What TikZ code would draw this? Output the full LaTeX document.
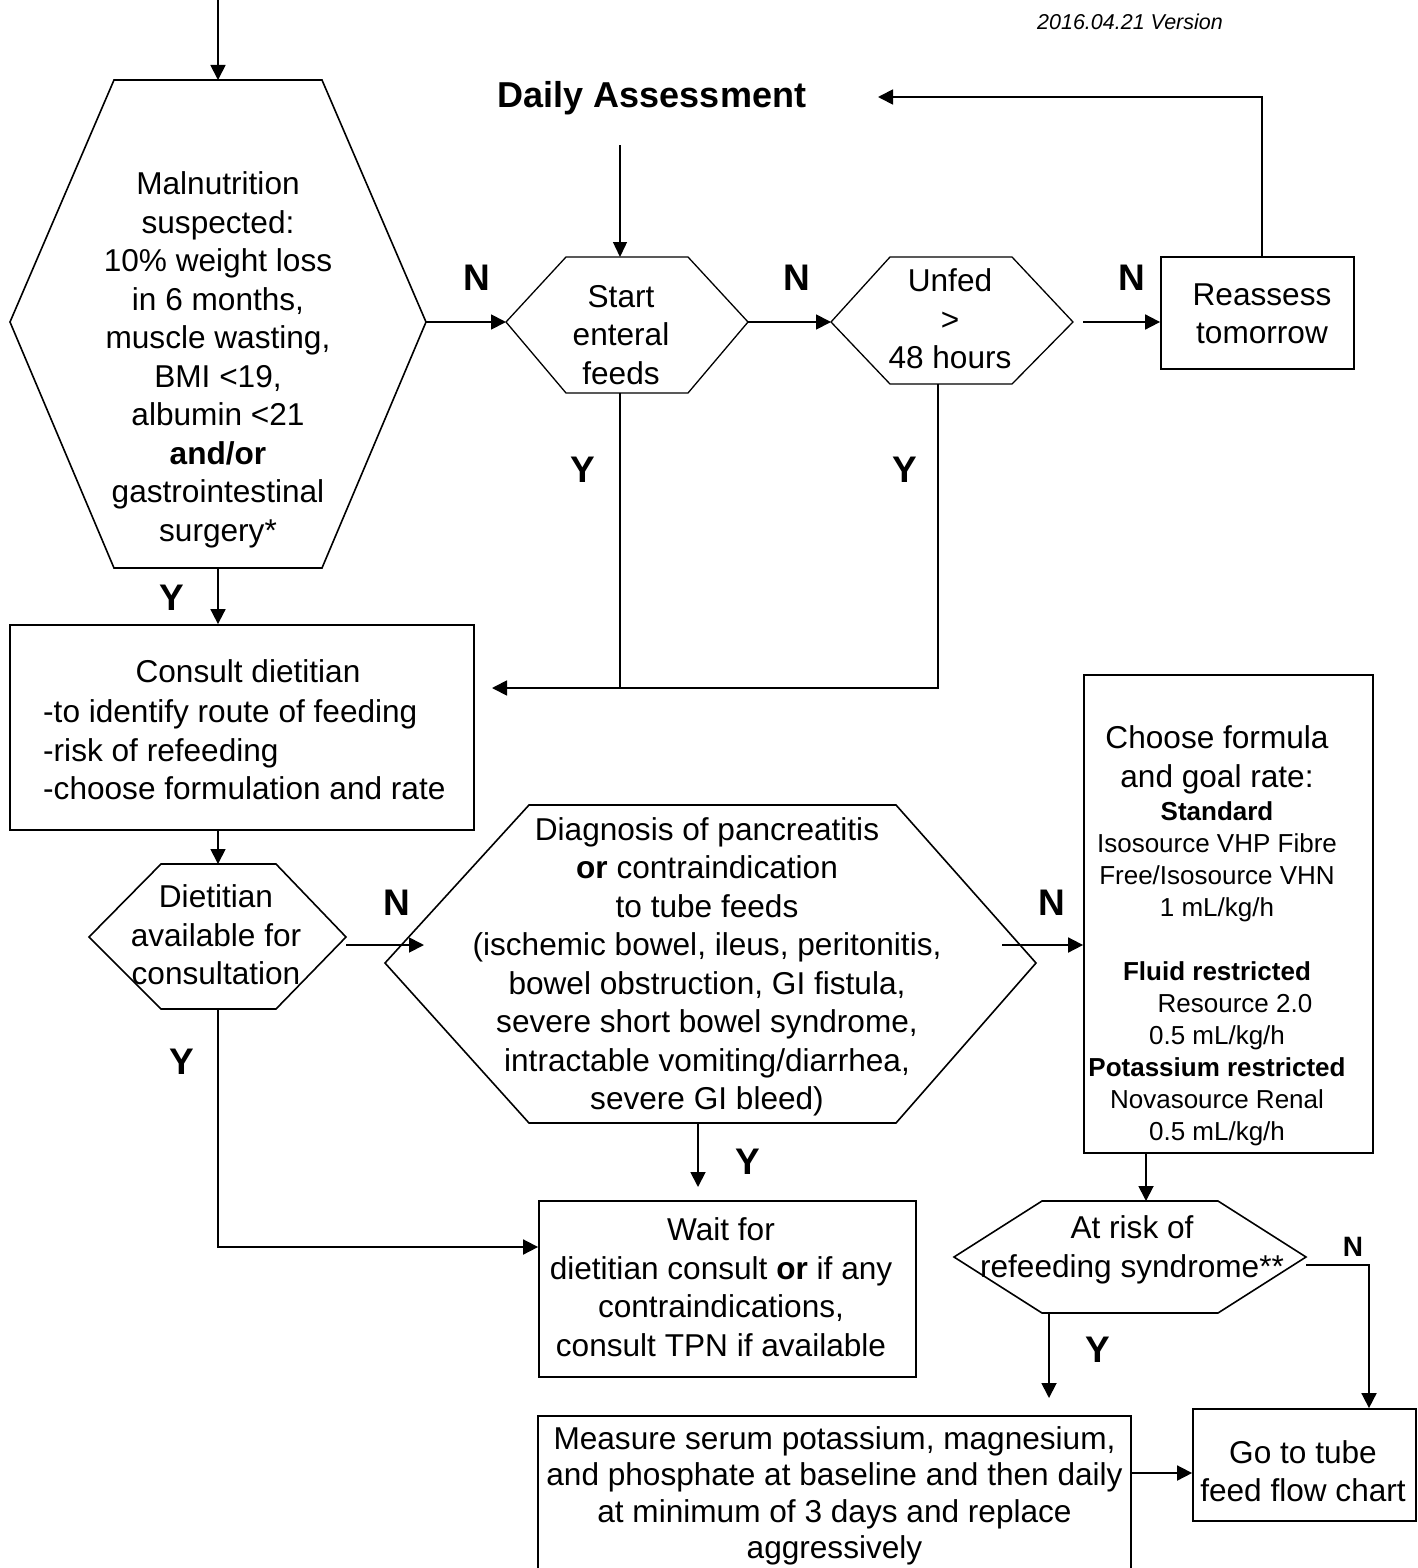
\documentclass[tikz,border=0pt]{standalone}
\usepackage{fontspec}
\setmainfont{Liberation Sans}
\usetikzlibrary{arrows.meta}
\begin{document}
\begin{tikzpicture}[x=1pt,y=-1pt,
  conn/.style={line width=1.8pt,-{Triangle[length=15pt,width=15pt]}},
  thinconn/.style={line width=1.4pt,-{Triangle[length=15pt,width=14pt]}},
  plain/.style={line width=1.8pt},
  shapeline/.style={draw,line width=1.6pt},
  boxline/.style={draw,line width=1.8pt},
  big/.style={font=\fontsize{31.6}{38.5}\selectfont,align=center,inner sep=0pt},
  small/.style={font=\fontsize{26}{32}\selectfont,align=center,inner sep=0pt},
  lbl/.style={font=\fontsize{37}{40}\selectfont\bfseries,inner sep=0pt},
  slbl/.style={font=\fontsize{28}{30}\selectfont\bfseries,inner sep=0pt}]
\useasboundingbox (0,0) rectangle (1418,1568);

% version
\node[font=\fontsize{21.5}{24}\selectfont\itshape,inner sep=0pt] (ver) at (1130,22) {2016.04.21 Version};

% Malnutrition hexagon
\coordinate (mtop) at (218,80);
\coordinate (mright) at (426,322);
\coordinate (mbot) at (218,568);
\coordinate (mentry) at (218,0);
\draw[shapeline] (114,80) -- (322,80) -- (mright) -- (322,568) -- (114,568) -- (10,322) -- cycle;
\node[big] (mal) at (218,360) {Malnutrition\\suspected:\\10\% weight loss\\in 6 months,\\muscle wasting,\\BMI <19,\\albumin <21\\\textbf{and/or}\\gastrointestinal\\surgery*};
\draw[conn] (mentry) -- (mtop);

% Daily assessment
\node[font=\fontsize{36}{40}\selectfont\bfseries,inner sep=0pt] (daily) at (652,98) {Daily Assessment};
\coordinate (dailyout) at (620,145);
\coordinate (dailyin) at (878,97);

% Start enteral feeds
\coordinate (stop) at (620,257);
\coordinate (sleft) at (506,322);
\coordinate (sright) at (748,322);
\coordinate (sbot) at (620,393);
\draw[shapeline,line width=1.3pt] (566,257) -- (688,257) -- (sright) -- (688,393) -- (566,393) -- (sleft) -- cycle;
\node[big] (start) at (621,335) {Start\\enteral\\feeds};

% Unfed
\coordinate (uleft) at (831,322);
\coordinate (uright) at (1073,322);
\coordinate (ubot) at (938,384);
\draw[shapeline,line width=1.3pt] (890,257) -- (1012,257) -- (uright) -- (1012,384) -- (890,384) -- (uleft) -- cycle;
\node[big] (unfed) at (950,319) {Unfed\\>\\48 hours};

% Reassess
\node[boxline,minimum width=193pt,minimum height=112pt,inner sep=0pt] (reas) at (1257.5,313) {};
\node[big] (reastxt) at (1262,314) {Reassess\\tomorrow};
\coordinate (reastop) at (1262,257);
\coordinate (reasN) at (1262,97);

% connectors top row
\draw[thinconn] (dailyout) -- (stop);
\draw[conn] (mright) -- (sleft);
\node[lbl] (n1) at (477,278) {N};
\draw[conn] (sright) -- (uleft);
\node[lbl] (n2) at (797,278) {N};
\coordinate (ustart) at (1083,322);
\draw[conn] (ustart) -- (reas.west |- ustart);
\node[lbl] (n3) at (1132,278) {N};
\draw[conn] (reastop) -- (reasN) -- (dailyin);

% Consult dietitian box
\node[boxline,minimum width=464pt,minimum height=205pt,inner sep=0pt] (consult) at (242,727.5) {};
\node[big] (ctitle) at (248,671) {Consult dietitian};
\node[big,align=left,anchor=west] (clist) at (43,750) {-to identify route of feeding\\-risk of refeeding\\-choose formulation and rate};
\draw[conn] (mbot) -- (consult.north -| mbot);
\node[lbl] (y1) at (172,598) {Y};

% Y returns from start / unfed
\coordinate (joinS) at (620,688);
\coordinate (joinU) at (938,688);
\coordinate (consultin) at (492,688);
\draw[plain] (sbot) -- (joinS);
\draw[conn] (ubot) -- (joinU) -- (consultin);
\node[lbl] (y2) at (583,470) {Y};
\node[lbl] (y3) at (905,470) {Y};

% Dietitian available hexagon
\coordinate (dtop) at (218,864);
\coordinate (dbot) at (218,1009);
\draw[shapeline] (161,864) -- (276,864) -- (346,937) -- (276,1009) -- (161,1009) -- (89,937) -- cycle;
\node[big] (diet) at (216,935) {Dietitian\\available for\\consultation};
\draw[conn] (consult.south -| dtop) -- (dtop);

% Diagnosis hexagon
\draw[shapeline] (529,805) -- (896,805) -- (1036,963) -- (896,1123) -- (529,1123) -- (385,963) -- cycle;
\node[big] (diag) at (707,967) {Diagnosis of pancreatitis\\\textbf{or} contraindication\\to tube feeds\\(ischemic bowel, ileus, peritonitis,\\bowel obstruction, GI fistula,\\severe short bowel syndrome,\\intractable vomiting/diarrhea,\\severe GI bleed)};
\coordinate (dN1) at (346,945);
\coordinate (dN2) at (424,945);
\draw[conn] (dN1) -- (dN2);
\node[lbl] (n4) at (397,903) {N};
\coordinate (gN1) at (1002,945);
\coordinate (diagbot) at (698,1123);
\coordinate (diagY) at (698,1187);

% Choose formula box
\node[boxline,minimum width=289pt,minimum height=478pt,inner sep=0pt] (choose) at (1228.5,914) {};
\node[big] (choosetitle) at (1217,760) {Choose formula\\and goal rate:};
\node[small] (choosebody) at (1217,974) {\textbf{Standard}\\Isosource VHP Fibre\\Free/Isosource VHN\\1 mL/kg/h\\[32pt]\textbf{Fluid restricted}\\\hspace*{36pt}Resource 2.0\\0.5 mL/kg/h\\\textbf{Potassium restricted}\\Novasource Renal\\0.5 mL/kg/h};
\draw[conn] (gN1) -- (choose.west |- gN1);
\node[lbl] (n5) at (1052,903) {N};

% Wait box
\node[boxline,minimum width=377pt,minimum height=176pt,inner sep=0pt] (wait) at (727.5,1289) {};
\node[big] (waittxt) at (721,1287) {Wait for\\dietitian consult \textbf{or} if any\\contraindications,\\consult TPN if available};
\draw[conn] (diagbot) -- (diagY);
\node[lbl] (y4) at (748,1162) {Y};
\coordinate (dY) at (218,1247);
\draw[conn] (dbot) -- (dY) -- (wait.west |- dY);
\node[lbl] (y5) at (182,1062) {Y};

% Refeeding hexagon
\coordinate (rtop) at (1146,1201);
\coordinate (rright) at (1306,1265);
\coordinate (rbot) at (1049,1313);
\draw[shapeline] (1042,1201) -- (1218,1201) -- (1306,1257) -- (1218,1313) -- (1042,1313) -- (954,1257) -- cycle;
\node[big] (refeed) at (1132,1250) {At risk of\\refeeding syndrome**};
\draw[conn] (choose.south -| rtop) -- (rtop);

% Go box
\node[boxline,minimum width=223pt,minimum height=112pt,inner sep=0pt] (go) at (1304.5,1465) {};
\node[big] (gotxt) at (1303,1471) {Go to tube\\feed flow chart};
\coordinate (rN) at (1369,1265);
\draw[conn] (rright) -- (rN) -- (rN |- go.north);
\node[slbl] (n6) at (1353,1247) {N};

% Measure box
\draw[boxline] (538,1600) -- (538,1416) -- (1131,1416) -- (1131,1600);
\coordinate (mwest) at (538,1473);
\coordinate (meast) at (1131,1473);
\node[big,font=\fontsize{31.6}{36.5}\selectfont] (measure) at (834.5,1496) {Measure serum potassium, magnesium,\\and phosphate at baseline and then daily\\at minimum of 3 days and replace\\aggressively};
\coordinate (rY) at (1049,1398);
\draw[conn] (rbot) -- (rY);
\node[lbl] (y6) at (1098,1350) {Y};
\draw[conn] (meast) -- (go.west |- meast);

\end{tikzpicture}
\end{document}
